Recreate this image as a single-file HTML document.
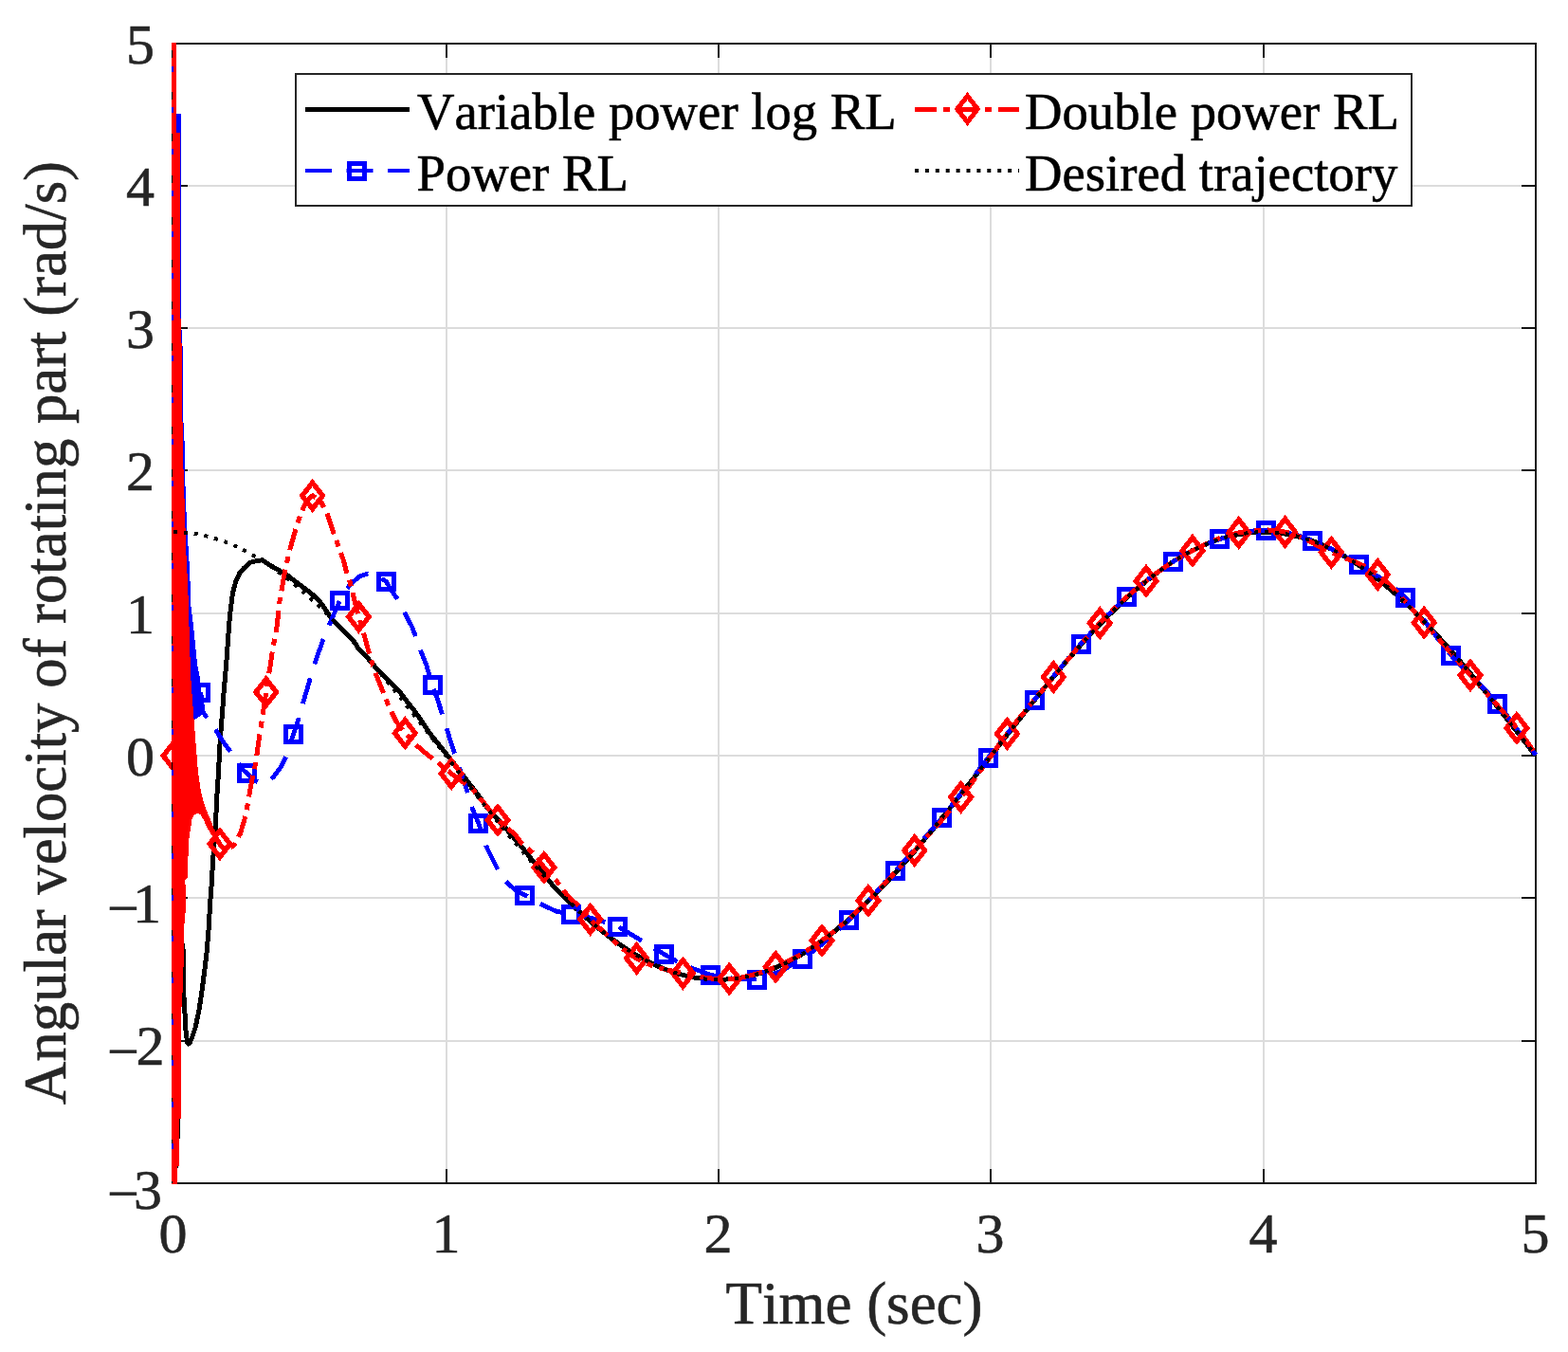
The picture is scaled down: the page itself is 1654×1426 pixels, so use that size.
<!DOCTYPE html>
<html><head><meta charset="utf-8"><title>Angular velocity plot</title>
<style>html,body{margin:0;padding:0;background:#fff;overflow:hidden;}svg{display:block;}text{font-kerning:none;font-feature-settings:"kern" 0;}</style></head><body>
<svg width="1654" height="1426" viewBox="0 0 1654 1426">
<rect width="1654" height="1426" fill="#fff"/>
<g shape-rendering="crispEdges">
<path d="M471,47V1247 M758,47V1247 M1045,47V1247 M1333,47V1247 M184,196H1619 M184,346H1619 M184,496H1619 M184,647H1619 M184,797H1619 M184,947H1619 M184,1098H1619" stroke="#dcdcdc" stroke-width="2" fill="none"/>
<path d="M471,1248V1233 M471,46V61 M758,1248V1233 M758,46V61 M1045,1248V1233 M1045,46V61 M1333,1248V1233 M1333,46V61 M183,196H198 M1620,196H1605 M183,346H198 M1620,346H1605 M183,496H198 M1620,496H1605 M183,647H198 M1620,647H1605 M183,797H198 M1620,797H1605 M183,947H198 M1620,947H1605 M183,1098H198 M1620,1098H1605" stroke="#141414" stroke-width="2" fill="none"/>
<rect x="183" y="46" width="1437" height="1202" stroke="#141414" stroke-width="2" fill="none"/>
<polyline points="184.5,797 183,62 185,1240 186.5,300 187.5,1200 188.5,500 189,900 190.5,985 192.5,998 193.6,1005 193.8,1048 195,1068.4 196,1087 197.5,1099 198.8,1101 200.3,1099.5 202.4,1094.8 206.3,1083.1 210.3,1063.4 213.2,1043.8 215.7,1024.2 218.1,1004.5 220.1,980 220.8,967.6 222,948 223.5,928.4 224.5,908.7 226,889.1 227.5,869.5 228.5,845 230.5,814.3 231.9,786.2 234,758.2 236.1,730.1 238.9,697.9 241.2,665 242.6,648.3 245.5,625 249,612.5 252.5,605 257,599.5 264.2,593.2 271.2,591.5 276.8,590.8 285.2,596.4 295,602 303.4,607 313.2,614.6 324.5,623 334.3,630.8 341.3,639.9 349.7,652.5 362.3,665.1 373.5,676.4 378.4,684.8 388.2,694.6 398,705.9 409.3,717.1 420.5,728.3 428.9,739.5 435.9,748 442.9,757.8 453.3,773.3 464.5,787.3 475.7,801.3 489.8,819.6 503.8,837.8 515,853.2 530.4,870.1 548.7,891.1 563.1,909.3 574.7,923.2 576.2,926.2 577.6,927.8 579,929.3 580.5,930.8 581.9,932.4 583.3,933.9 584.8,935.4 586.2,936.9 587.7,938.4 589.1,939.8 590.5,941.3 592,942.8 593.4,944.2 594.8,945.7 596.3,947.1 597.7,948.5 599.2,950 600.6,951.4 602,952.8 603.5,954.2 604.9,955.5 606.3,956.9 607.8,958.3 609.2,959.6 610.7,961 612.1,962.3 613.5,963.6 615,964.9 616.4,966.2 617.8,967.5 619.3,968.8 620.7,970.1 622.1,971.3 623.6,972.6 625,973.8 626.5,975 627.9,976.2 629.3,977.4 630.8,978.6 632.2,979.8 633.6,981 635.1,982.1 636.5,983.3 638,984.4 639.4,985.5 640.8,986.7 642.3,987.8 643.7,988.8 645.1,989.9 646.6,991 648,992 649.5,993.1 650.9,994.1 652.3,995.1 653.8,996.1 655.2,997.1 656.6,998.1 658.1,999.1 659.5,1000 660.9,1001 662.4,1001.9 663.8,1002.8 665.3,1003.7 666.7,1004.6 668.1,1005.5 669.6,1006.3 671,1007.2 672.4,1008 673.9,1008.9 675.3,1009.7 676.8,1010.5 678.2,1011.3 679.6,1012 681.1,1012.8 682.5,1013.6 683.9,1014.3 685.4,1015 686.8,1015.7 688.2,1016.4 689.7,1017.1 691.1,1017.8 692.6,1018.4 694,1019.1 695.4,1019.7 696.9,1020.3 698.3,1020.9 699.7,1021.5 701.2,1022.1 702.6,1022.6 704.1,1023.2 705.5,1023.7 706.9,1024.2 708.4,1024.7 709.8,1025.2 711.2,1025.7 712.7,1026.1 714.1,1026.6 715.6,1027 717,1027.4 718.4,1027.8 719.9,1028.2 721.3,1028.6 722.7,1028.9 724.2,1029.3 725.6,1029.6 727,1029.9 728.5,1030.2 729.9,1030.5 731.4,1030.8 732.8,1031.1 734.2,1031.3 735.7,1031.5 737.1,1031.8 738.5,1032 740,1032.1 741.4,1032.3 742.9,1032.5 744.3,1032.6 745.7,1032.7 747.2,1032.9 748.6,1033 750,1033 751.5,1033.1 752.9,1033.2 754.4,1033.2 755.8,1033.2 757.2,1033.3 758.7,1033.3 760.1,1033.2 761.5,1033.2 763,1033.2 764.4,1033.1 765.8,1033 767.3,1032.9 768.7,1032.8 770.2,1032.7 771.6,1032.6 773,1032.4 774.5,1032.3 775.9,1032.1 777.3,1031.9 778.8,1031.7 780.2,1031.5 781.7,1031.3 783.1,1031 784.5,1030.7 786,1030.5 787.4,1030.2 788.8,1029.9 790.3,1029.6 791.7,1029.2 793.2,1028.9 794.6,1028.5 796,1028.1 797.5,1027.7 798.9,1027.3 800.3,1026.9 801.8,1026.5 803.2,1026 804.6,1025.6 806.1,1025.1 807.5,1024.6 809,1024.1 810.4,1023.6 811.8,1023 813.3,1022.5 814.7,1021.9 816.1,1021.4 817.6,1020.8 819,1020.2 820.5,1019.6 821.9,1018.9 823.3,1018.3 824.8,1017.6 826.2,1017 827.6,1016.3 829.1,1015.6 830.5,1014.9 831.9,1014.1 833.4,1013.4 834.8,1012.7 836.3,1011.9 837.7,1011.1 839.1,1010.3 840.6,1009.5 842,1008.7 843.4,1007.9 844.9,1007 846.3,1006.2 847.8,1005.3 849.2,1004.4 850.6,1003.5 852.1,1002.6 853.5,1001.7 854.9,1000.8 856.4,999.8 857.8,998.9 859.3,997.9 860.7,996.9 862.1,995.9 863.6,994.9 865,993.9 866.4,992.9 867.9,991.8 869.3,990.8 870.7,989.7 872.2,988.6 873.6,987.5 875.1,986.4 876.5,985.3 877.9,984.2 879.4,983.1 880.8,981.9 882.2,980.7 883.7,979.6 885.1,978.4 886.6,977.2 888,976 889.4,974.8 890.9,973.5 892.3,972.3 893.7,971.1 895.2,969.8 896.6,968.5 898.1,967.3 899.5,966 900.9,964.7 902.4,963.3 903.8,962 905.2,960.7 906.7,959.4 908.1,958 909.5,956.6 911,955.3 912.4,953.9 913.9,952.5 915.3,951.1 916.7,949.7 918.2,948.3 919.6,946.8 921,945.4 922.5,943.9 923.9,942.5 925.4,941 926.8,939.5 928.2,938.1 929.7,936.6 931.1,935.1 932.5,933.6 934,932 935.4,930.5 936.9,929 938.3,927.4 939.7,925.9 941.2,924.3 942.6,922.8 944,921.2 945.5,919.6 946.9,918 948.3,916.4 949.8,914.8 951.2,913.2 952.7,911.6 954.1,910 955.5,908.3 957,906.7 958.4,905.1 959.8,903.4 961.3,901.7 962.7,900.1 964.2,898.4 965.6,896.7 967,895 968.5,893.4 969.9,891.7 971.3,890 972.8,888.3 974.2,886.5 975.6,884.8 977.1,883.1 978.5,881.4 980,879.6 981.4,877.9 982.8,876.1 984.3,874.4 985.7,872.6 987.1,870.9 988.6,869.1 990,867.4 991.5,865.6 992.9,863.8 994.3,862 995.8,860.2 997.2,858.5 998.6,856.7 1000.1,854.9 1001.5,853.1 1003,851.3 1004.4,849.5 1005.8,847.6 1007.3,845.8 1008.7,844 1010.1,842.2 1011.6,840.4 1013,838.6 1014.4,836.7 1015.9,834.9 1017.3,833.1 1018.8,831.2 1020.2,829.4 1021.6,827.6 1023.1,825.7 1024.5,823.9 1025.9,822 1027.4,820.2 1028.8,818.4 1030.3,816.5 1031.7,814.7 1033.1,812.8 1034.6,811 1036,809.1 1037.4,807.3 1038.9,805.4 1040.3,803.6 1041.8,801.7 1043.2,799.8 1044.6,798 1046.1,796.1 1047.5,794.3 1048.9,792.4 1050.4,790.6 1051.8,788.7 1053.2,786.9 1054.7,785 1056.1,783.2 1057.6,781.3 1059,779.5 1060.4,777.6 1061.9,775.8 1063.3,773.9 1064.7,772.1 1066.2,770.2 1067.6,768.4 1069.1,766.6 1070.5,764.7 1071.9,762.9 1073.4,761.1 1074.8,759.2 1076.2,757.4 1077.7,755.6 1079.1,753.8 1080.6,751.9 1082,750.1 1083.4,748.3 1084.9,746.5 1086.3,744.7 1087.7,742.9 1089.2,741.1 1090.6,739.3 1092,737.5 1093.5,735.7 1094.9,733.9 1096.4,732.1 1097.8,730.3 1099.2,728.6 1100.7,726.8 1102.1,725 1103.5,723.3 1105,721.5 1106.4,719.8 1107.9,718 1109.3,716.3 1110.7,714.5 1112.2,712.8 1113.6,711.1 1115,709.3 1116.5,707.6 1117.9,705.9 1119.3,704.2 1120.8,702.5 1122.2,700.8 1123.7,699.1 1125.1,697.4 1126.5,695.8 1128,694.1 1129.4,692.4 1130.8,690.8 1132.3,689.1 1133.7,687.5 1135.2,685.8 1136.6,684.2 1138,682.6 1139.5,681 1140.9,679.4 1142.3,677.7 1143.8,676.2 1145.2,674.6 1146.7,673 1148.1,671.4 1149.5,669.9 1151,668.3 1152.4,666.7 1153.8,665.2 1155.3,663.7 1156.7,662.1 1158.1,660.6 1159.6,659.1 1161,657.6 1162.5,656.1 1163.9,654.7 1165.3,653.2 1166.8,651.7 1168.2,650.3 1169.6,648.8 1171.1,647.4 1172.5,646 1174,644.5 1175.4,643.1 1176.8,641.7 1178.3,640.3 1179.7,639 1181.1,637.6 1182.6,636.2 1184,634.9 1185.5,633.5 1186.9,632.2 1188.3,630.9 1189.8,629.6 1191.2,628.3 1192.6,627 1194.1,625.7 1195.5,624.4 1196.9,623.2 1198.4,621.9 1199.8,620.7 1201.3,619.5 1202.7,618.3 1204.1,617.1 1205.6,615.9 1207,614.7 1208.4,613.5 1209.9,612.4 1211.3,611.2 1212.8,610.1 1214.2,609 1215.6,607.8 1217.1,606.7 1218.5,605.7 1219.9,604.6 1221.4,603.5 1222.8,602.5 1224.3,601.4 1225.7,600.4 1227.1,599.4 1228.6,598.4 1230,597.4 1231.4,596.4 1232.9,595.4 1234.3,594.5 1235.7,593.5 1237.2,592.6 1238.6,591.7 1240.1,590.8 1241.5,589.9 1242.9,589 1244.4,588.2 1245.8,587.3 1247.2,586.5 1248.7,585.6 1250.1,584.8 1251.6,584 1253,583.2 1254.4,582.5 1255.9,581.7 1257.3,580.9 1258.7,580.2 1260.2,579.5 1261.6,578.8 1263,578.1 1264.5,577.4 1265.9,576.7 1267.4,576.1 1268.8,575.4 1270.2,574.8 1271.7,574.2 1273.1,573.6 1274.5,573 1276,572.4 1277.4,571.9 1278.9,571.3 1280.3,570.8 1281.7,570.3 1283.2,569.8 1284.6,569.3 1286,568.8 1287.5,568.4 1288.9,567.9 1290.4,567.5 1291.8,567.1 1293.2,566.7 1294.7,566.3 1296.1,565.9 1297.5,565.6 1299,565.2 1300.4,564.9 1301.8,564.6 1303.3,564.3 1304.7,564 1306.2,563.7 1307.6,563.4 1309,563.2 1310.5,563 1311.9,562.7 1313.3,562.5 1314.8,562.4 1316.2,562.2 1317.7,562 1319.1,561.9 1320.5,561.8 1322,561.6 1323.4,561.5 1324.8,561.5 1326.3,561.4 1327.7,561.3 1329.2,561.3 1330.6,561.3 1332,561.2 1333.5,561.2 1334.9,561.3 1336.3,561.3 1337.8,561.3 1339.2,561.4 1340.6,561.5 1342.1,561.6 1343.5,561.7 1345,561.8 1346.4,561.9 1347.8,562.1 1349.3,562.2 1350.7,562.4 1352.1,562.6 1353.6,562.8 1355,563 1356.5,563.2 1357.9,563.5 1359.3,563.8 1360.8,564 1362.2,564.3 1363.6,564.6 1365.1,564.9 1366.5,565.3 1368,565.6 1369.4,566 1370.8,566.4 1372.3,566.8 1373.7,567.2 1375.1,567.6 1376.6,568 1378,568.5 1379.4,568.9 1380.9,569.4 1382.3,569.9 1383.8,570.4 1385.2,570.9 1386.6,571.5 1388.1,572 1389.5,572.6 1390.9,573.1 1392.4,573.7 1393.8,574.3 1395.3,574.9 1396.7,575.6 1398.1,576.2 1399.6,576.9 1401,577.5 1402.4,578.2 1403.9,578.9 1405.3,579.6 1406.7,580.4 1408.2,581.1 1409.6,581.8 1411.1,582.6 1412.5,583.4 1413.9,584.2 1415.4,585 1416.8,585.8 1418.2,586.6 1419.7,587.5 1421.1,588.3 1422.6,589.2 1424,590.1 1425.4,591 1426.9,591.9 1428.3,592.8 1429.7,593.7 1431.2,594.7 1432.6,595.6 1434.1,596.6 1435.5,597.6 1436.9,598.6 1438.4,599.6 1439.8,600.6 1441.2,601.6 1442.7,602.7 1444.1,603.7 1445.5,604.8 1447,605.9 1448.4,607 1449.9,608.1 1451.3,609.2 1452.7,610.3 1454.2,611.4 1455.6,612.6 1457,613.8 1458.5,614.9 1459.9,616.1 1461.4,617.3 1462.8,618.5 1464.2,619.7 1465.7,621 1467.1,622.2 1468.5,623.4 1470,624.7 1471.4,626 1472.9,627.2 1474.3,628.5 1475.7,629.8 1477.2,631.2 1478.6,632.5 1480,633.8 1481.5,635.1 1482.9,636.5 1484.3,637.9 1485.8,639.2 1487.2,640.6 1488.7,642 1490.1,643.4 1491.5,644.8 1493,646.2 1494.4,647.7 1495.8,649.1 1497.3,650.6 1498.7,652 1500.2,653.5 1501.6,655 1503,656.4 1504.5,657.9 1505.9,659.4 1507.3,660.9 1508.8,662.5 1510.2,664 1511.7,665.5 1513.1,667.1 1514.5,668.6 1516,670.2 1517.4,671.7 1518.8,673.3 1520.3,674.9 1521.7,676.5 1523.1,678.1 1524.6,679.7 1526,681.3 1527.5,682.9 1528.9,684.5 1530.3,686.2 1531.8,687.8 1533.2,689.4 1534.6,691.1 1536.1,692.8 1537.5,694.4 1539,696.1 1540.4,697.8 1541.8,699.5 1543.3,701.1 1544.7,702.8 1546.1,704.5 1547.6,706.2 1549,708 1550.4,709.7 1551.9,711.4 1553.3,713.1 1554.8,714.9 1556.2,716.6 1557.6,718.4 1559.1,720.1 1560.5,721.9 1561.9,723.6 1563.4,725.4 1564.8,727.1 1566.3,728.9 1567.7,730.7 1569.1,732.5 1570.6,734.3 1572,736 1573.4,737.8 1574.9,739.6 1576.3,741.4 1577.8,743.2 1579.2,745 1580.6,746.9 1582.1,748.7 1583.5,750.5 1584.9,752.3 1586.4,754.1 1587.8,755.9 1589.2,757.8 1590.7,759.6 1592.1,761.4 1593.6,763.3 1595,765.1 1596.4,766.9 1597.9,768.8 1599.3,770.6 1600.7,772.5 1602.2,774.3 1603.6,776.1 1605.1,778 1606.5,779.8 1607.9,781.7 1609.4,783.5 1610.8,785.4 1612.2,787.2 1613.7,789.1 1615.1,790.9 1616.6,792.8 1618,794.7 1619.4,796.5" fill="none" stroke="#000" stroke-width="5" stroke-linejoin="round"/>
<polygon points="180.5,44.5 185,44.5 186,120 190.5,120 190.5,280 191.4,346 192.5,365 193.2,440 194.5,465 195,500 196.5,540 197.5,560 200,600 201.5,640 204,660 206,680 208,700 211,715 213,735 214,752 210,756 204,760 190,760 180.5,760" fill="#00f"/>
<polyline points="211.8,730.5 214,750.7 219,758 223.5,763.1 229.8,773.6 236.1,783.4 244.5,794.6 255.7,811.5 260.4,815.4 266,821 273.3,825.5 280,825 288,819.9 296.4,808.7 302,797.4 309.3,775 315.3,756.8 320.3,739.2 327.3,715.4 332.9,697.2 341.3,673.3 348.3,656.7 358.1,634.3 364,623 371.4,614.6 379.8,607.7 388.2,604.9 397,606.5 407.4,613.3 412.1,621.7 419.1,631.5 427.5,647.7 434.5,661 438.7,671.5 444.3,687.6 449.9,701.7 456.2,723.4 461.2,736.7 466.8,754.2 475.7,783.1 480,795.7 491.2,829.4 498.2,852.5 505.2,869.4 513.5,894 525.2,917.5 535.1,931.5 544,939 554,944.2 567.8,952.3 586.3,961 602.3,964.5 612.2,965.9 628.7,969.5 651.8,977.1 666.9,986.2 680.9,994.6 700.6,1006.5 720,1017.5 749.5,1028.3 775,1032.5 798.3,1033.1 822,1025 847.2,1011.3 872,992 896,970.3 897.2,969.2 898.6,967.8 900.1,966.4 901.5,965.1 902.9,963.7 904.4,962.2 905.8,960.8 907.2,959.3 908.7,957.9 910.1,956.4 911.6,954.9 913,953.4 914.4,951.9 915.9,950.3 917.3,948.8 918.7,947.2 920.2,945.7 921.6,944.1 923.1,942.5 924.5,940.9 925.9,939.3 927.4,937.7 928.8,936.1 930.2,934.5 931.7,932.9 933.1,931.3 934.6,929.7 936,928.1 937.4,926.4 938.9,924.8 940.3,923.2 941.7,921.6 943.2,920 944.6,918.4 946,916.8 947.5,915.2 948.9,913.6 950.4,912 951.8,910.4 953.2,908.8 954.7,907.2 956.1,905.6 957.5,904 959,902.4 960.4,900.8 961.9,899.2 963.3,897.6 964.7,896 966.2,894.4 967.6,892.8 969,891.1 970.5,889.5 971.9,887.9 973.3,886.3 974.8,884.6 976.2,883 977.7,881.3 979.1,879.6 980.5,878 982,876.3 983.4,874.6 984.8,872.9 986.3,871.2 987.7,869.5 989.2,867.8 990.6,866 992,864.3 993.5,862.5 994.9,860.7 996.3,858.9 997.8,857.1 999.2,855.3 1000.7,853.5 1002.1,851.7 1003.5,849.9 1005,848 1006.4,846.2 1007.8,844.3 1009.3,842.5 1010.7,840.6 1012.1,838.7 1013.6,836.9 1015,835 1016.5,833.1 1017.9,831.2 1019.3,829.3 1020.8,827.4 1022.2,825.6 1023.6,823.7 1025.1,821.8 1026.5,819.9 1028,818 1029.4,816.1 1030.8,814.2 1032.3,812.3 1033.7,810.5 1035.1,808.6 1036.6,806.7 1038,804.8 1039.5,803 1040.9,801.1 1042.3,799.3 1043.8,797.4 1045.2,795.6 1046.6,793.7 1048.1,791.9 1049.5,790.1 1050.9,788.2 1052.4,786.4 1053.8,784.6 1055.3,782.8 1056.7,781 1058.1,779.2 1059.6,777.4 1061,775.6 1062.4,773.8 1063.9,772 1065.3,770.2 1066.8,768.4 1068.2,766.6 1069.6,764.8 1071.1,763 1072.5,761.2 1073.9,759.4 1075.4,757.7 1076.8,755.9 1078.3,754.1 1079.7,752.3 1081.1,750.5 1082.6,748.8 1084,747 1085.4,745.2 1086.9,743.4 1088.3,741.6 1089.7,739.8 1091.2,738.1 1092.6,736.3 1094.1,734.5 1095.5,732.7 1096.9,730.9 1098.4,729.1 1099.8,727.4 1101.2,725.6 1102.7,723.8 1104.1,722 1105.6,720.3 1107,718.5 1108.4,716.7 1109.9,715 1111.3,713.2 1112.7,711.5 1114.2,709.7 1115.6,708 1117,706.2 1118.5,704.5 1119.9,702.8 1121.4,701 1122.8,699.3 1124.2,697.6 1125.7,695.9 1127.1,694.2 1128.5,692.5 1130,690.9 1131.4,689.2 1132.9,687.5 1134.3,685.9 1135.7,684.2 1137.2,682.6 1138.6,680.9 1140,679.3 1141.5,677.7 1142.9,676.1 1144.4,674.5 1145.8,672.9 1147.2,671.3 1148.7,669.8 1150.1,668.2 1151.5,666.6 1153,665.1 1154.4,663.5 1155.8,662 1157.3,660.5 1158.7,659 1160.2,657.5 1161.6,656 1163,654.5 1164.5,653 1165.9,651.6 1167.3,650.1 1168.8,648.6 1170.2,647.2 1171.7,645.8 1173.1,644.4 1174.5,643 1176,641.6 1177.4,640.2 1178.8,638.8 1180.3,637.4 1181.7,636.1 1183.2,634.7 1184.6,633.4 1186,632.1 1187.5,630.8 1188.9,629.5 1190.3,628.2 1191.8,626.9 1193.2,625.6 1194.6,624.4 1196.1,623.2 1197.5,621.9 1199,620.7 1200.4,619.5 1201.8,618.3 1203.3,617.1 1204.7,616 1206.1,614.8 1207.6,613.7 1209,612.6 1210.5,611.4 1211.9,610.3 1213.3,609.2 1214.8,608.2 1216.2,607.1 1217.6,606 1219.1,605 1220.5,603.9 1222,602.9 1223.4,601.9 1224.8,600.9 1226.3,599.9 1227.7,598.9 1229.1,598 1230.6,597 1232,596 1233.4,595.1 1234.9,594.2 1236.3,593.3 1237.8,592.3 1239.2,591.4 1240.6,590.6 1242.1,589.7 1243.5,588.8 1244.9,588 1246.4,587.1 1247.8,586.3 1249.3,585.5 1250.7,584.7 1252.1,583.9 1253.6,583.1 1255,582.4 1256.4,581.6 1257.9,580.9 1259.3,580.2 1260.8,579.4 1262.2,578.7 1263.6,578 1265.1,577.4 1266.5,576.7 1267.9,576.1 1269.4,575.4 1270.8,574.8 1272.2,574.2 1273.7,573.6 1275.1,573 1276.6,572.4 1278,571.8 1279.4,571.3 1280.9,570.7 1282.3,570.2 1283.7,569.7 1285.2,569.2 1286.6,568.7 1288.1,568.2 1289.5,567.7 1290.9,567.2 1292.4,566.8 1293.8,566.3 1295.2,565.9 1296.7,565.4 1298.1,565 1299.5,564.6 1301,564.2 1302.4,563.8 1303.9,563.4 1305.3,563.1 1306.7,562.7 1308.2,562.4 1309.6,562.1 1311,561.8 1312.5,561.5 1313.9,561.2 1315.4,561 1316.8,560.7 1318.2,560.5 1319.7,560.3 1321.1,560.1 1322.5,559.9 1324,559.8 1325.4,559.6 1326.9,559.5 1328.3,559.4 1329.7,559.4 1331.2,559.3 1332.6,559.3 1334,559.3 1335.5,559.3 1336.9,559.3 1338.3,559.4 1339.8,559.4 1341.2,559.5 1342.7,559.6 1344.1,559.8 1345.5,559.9 1347,560.1 1348.4,560.3 1349.8,560.5 1351.3,560.7 1352.7,561 1354.2,561.2 1355.6,561.5 1357,561.8 1358.5,562.1 1359.9,562.4 1361.3,562.8 1362.8,563.1 1364.2,563.5 1365.7,563.9 1367.1,564.3 1368.5,564.7 1370,565.1 1371.4,565.6 1372.8,566 1374.3,566.5 1375.7,566.9 1377.1,567.4 1378.6,567.9 1380,568.4 1381.5,568.9 1382.9,569.5 1384.3,570 1385.8,570.6 1387.2,571.1 1388.6,571.7 1390.1,572.3 1391.5,572.9 1393,573.5 1394.4,574.2 1395.8,574.8 1397.3,575.5 1398.7,576.2 1400.1,576.9 1401.6,577.6 1403,578.3 1404.4,579 1405.9,579.8 1407.3,580.5 1408.8,581.3 1410.2,582.1 1411.6,582.9 1413.1,583.7 1414.5,584.5 1415.9,585.3 1417.4,586.1 1418.8,586.9 1420.3,587.8 1421.7,588.6 1423.1,589.5 1424.6,590.3 1426,591.2 1427.4,592.1 1428.9,592.9 1430.3,593.8 1431.8,594.7 1433.2,595.6 1434.6,596.5 1436.1,597.4 1437.5,598.3 1438.9,599.1 1440.4,600 1441.8,600.9 1443.2,601.7 1444.7,602.6 1446.1,603.5 1447.6,604.3 1449,605.2 1450.4,606.1 1451.9,607 1453.3,607.9 1454.7,608.8 1456.2,609.7 1457.6,610.7 1459.1,611.6 1460.5,612.6 1461.9,613.6 1463.4,614.6 1464.8,615.6 1466.2,616.7 1467.7,617.7 1469.1,618.8 1470.6,620 1472,621.1 1473.4,622.3 1474.9,623.5 1476.3,624.8 1477.7,626.1 1479.2,627.4 1480.6,628.8 1482,630.2 1483.5,631.6 1484.9,633.1 1486.4,634.7 1487.8,636.3 1489.2,637.9 1490.7,639.6 1492.1,641.3 1493.5,643 1495,644.8 1496.4,646.6 1497.9,648.4 1499.3,650.2 1500.7,652.1 1502.2,654 1503.6,655.9 1505,657.8 1506.5,659.7 1507.9,661.6 1509.4,663.6 1510.8,665.5 1512.2,667.4 1513.7,669.4 1515.1,671.3 1516.5,673.2 1518,675.1 1519.4,677 1520.8,678.9 1522.3,680.7 1523.7,682.6 1525.2,684.4 1526.6,686.1 1528,687.9 1529.5,689.6 1530.9,691.3 1532.3,693 1533.8,694.6 1535.2,696.2 1536.7,697.7 1538.1,699.3 1539.5,700.8 1541,702.3 1542.4,703.8 1543.8,705.2 1545.3,706.7 1546.7,708.1 1548.1,709.6 1549.6,711 1551,712.4 1552.5,713.8 1553.9,715.2 1555.3,716.6 1556.8,718 1558.2,719.4 1559.6,720.8 1561.1,722.2 1562.5,723.7 1564,725.1 1565.4,726.6 1566.8,728 1568.3,729.5 1569.7,731 1571.1,732.6 1572.6,734.1 1574,735.7 1575.5,737.3 1576.9,739 1578.3,740.7 1579.8,742.4 1581.2,744.1 1582.6,745.8 1584.1,747.6 1585.5,749.4 1586.9,751.3 1588.4,753.1 1589.8,755 1591.3,756.9 1592.7,758.9 1594.1,760.8 1595.6,762.7 1597,764.7 1598.4,766.7 1599.9,768.7 1601.3,770.6 1602.8,772.6 1604.2,774.6 1605.6,776.6 1607.1,778.6 1608.5,780.6 1609.9,782.6 1611.4,784.6 1612.8,786.6 1614.3,788.5 1615.7,790.5 1617.1,792.4 1618.6,794.3 1620,796.2" fill="none" stroke="#00f" stroke-width="4.8" stroke-dasharray="28 15.5" stroke-linejoin="round"/>
<g fill="none" stroke="#00f" stroke-width="5"><rect x="203.7" y="722.5" width="16" height="16"/><rect x="252.6" y="807.6" width="16" height="16"/><rect x="301.5" y="766.5" width="16" height="16"/><rect x="350.3" y="625.9" width="16" height="16"/><rect x="399.2" y="605.2" width="16" height="16"/><rect x="448" y="714.8" width="16" height="16"/><rect x="496.9" y="860.6" width="16" height="16"/><rect x="545.7" y="936.1" width="16" height="16"/><rect x="594.6" y="956.5" width="16" height="16"/><rect x="643.5" y="969" width="16" height="16"/><rect x="692.3" y="998.3" width="16" height="16"/><rect x="741.2" y="1020.2" width="16" height="16"/><rect x="790" y="1025.1" width="16" height="16"/><rect x="838.9" y="1003.5" width="16" height="16"/><rect x="887.8" y="962.5" width="16" height="16"/><rect x="936.6" y="910.4" width="16" height="16"/><rect x="985.5" y="854.5" width="16" height="16"/><rect x="1034.3" y="791.3" width="16" height="16"/><rect x="1083.2" y="730.1" width="16" height="16"/><rect x="1132" y="671.3" width="16" height="16"/><rect x="1180.9" y="621.5" width="16" height="16"/><rect x="1229.8" y="584.3" width="16" height="16"/><rect x="1278.6" y="560.7" width="16" height="16"/><rect x="1327.5" y="551.3" width="16" height="16"/><rect x="1376.3" y="562" width="16" height="16"/><rect x="1425.2" y="587.6" width="16" height="16"/><rect x="1474" y="622.2" width="16" height="16"/><rect x="1522.9" y="683.3" width="16" height="16"/><rect x="1571.8" y="734.4" width="16" height="16"/></g>
<polygon points="180.5,44.5 186,44.5 186,140 190,140 190,280 190.6,346 191.7,365 192.4,440 193,465 193.6,500 195,540 196.2,580 197.3,600 199,640 200,680 201.6,720 204.7,760 207,790 209,815 212,835 214.5,845 216.1,849.8 219.1,857.7 222,864.5 225,872.4 227,878 222.5,879.5 218.1,872.4 215.2,865.5 211.2,858.7 208,858 204.4,860 202.4,864.5 199.5,884.2 198.5,903.8 198,925.4 194.5,928.4 195.5,933.3 196,956.8 194,980 194,1000 193,1040 191,1070 191,1180 189,1180 189,1230 187,1230 187,1249 180.5,1249" fill="#f00"/>
<polyline points="224,876 227,882 232.3,891 236,894.5 240,895.5 244,893.5 247.6,890 253.4,879.3 256.4,869.5 259.3,859.6 261.3,847.9 264.2,831.1 267,817.1 269.8,804.5 271.9,789 274,773.6 276.1,761 278.2,747 280.7,730.1 283.1,713.3 285.2,702.1 287.3,686.6 289.4,675.4 292.2,660 295,634.3 300.6,602 306.2,578.2 311.8,558.5 317.4,541.7 323,529 329.7,522.8 338.5,529 345.5,543 351.1,560 356.7,575.4 362.3,590.8 365.1,602 369.3,614.6 373.5,631.5 378.6,651.2 384,669.4 388.2,684.8 394.5,705.9 402.3,725.5 410.7,746.5 418,761 427.3,773.3 440.7,787.3 450.5,795.7 461.7,804.2 476.3,816.1 498.2,832.2 512.2,849 525.2,865.2 543.1,879.9 550,889.3 558.5,896.7 564.7,901.6 574,915.1 583.2,924 591.7,935.2 598.6,944.8 607.1,952.5 614.1,959.5 622.9,969.9 624.2,971.2 625.6,972.6 627,973.9 628.5,975.3 629.9,976.6 631.3,978 632.8,979.3 634.2,980.6 635.7,982 637.1,983.3 638.5,984.7 640,986 641.4,987.3 642.8,988.6 644.3,989.9 645.7,991.2 647.2,992.5 648.6,993.7 650,995 651.5,996.2 652.9,997.4 654.3,998.6 655.8,999.8 657.2,1000.9 658.6,1002.1 660.1,1003.2 661.5,1004.2 663,1005.3 664.4,1006.3 665.8,1007.3 667.3,1008.3 668.7,1009.2 670.1,1010.1 671.6,1010.9 673,1011.8 674.5,1012.6 675.9,1013.3 677.3,1014 678.8,1014.7 680.2,1015.4 681.6,1016 683.1,1016.6 684.5,1017.2 685.9,1017.7 687.4,1018.3 688.8,1018.8 690.3,1019.2 691.7,1019.7 693.1,1020.1 694.6,1020.6 696,1021 697.4,1021.4 698.9,1021.7 700.3,1022.1 701.8,1022.5 703.2,1022.8 704.6,1023.1 706.1,1023.5 707.5,1023.8 708.9,1024.1 710.4,1024.4 711.8,1024.7 713.3,1025 714.7,1025.3 716.1,1025.6 717.6,1025.9 719,1026.2 720.4,1026.6 721.9,1026.9 723.3,1027.2 724.7,1027.5 726.2,1027.8 727.6,1028.1 729.1,1028.4 730.5,1028.7 731.9,1029 733.4,1029.3 734.8,1029.6 736.2,1029.9 737.7,1030.1 739.1,1030.4 740.6,1030.6 742,1030.9 743.4,1031.1 744.9,1031.3 746.3,1031.5 747.7,1031.7 749.2,1031.9 750.6,1032 752.1,1032.2 753.5,1032.3 754.9,1032.4 756.4,1032.5 757.8,1032.6 759.2,1032.7 760.7,1032.7 762.1,1032.7 763.5,1032.7 765,1032.7 766.4,1032.7 767.9,1032.6 769.3,1032.5 770.7,1032.4 772.2,1032.3 773.6,1032.1 775,1032 776.5,1031.8 777.9,1031.6 779.4,1031.4 780.8,1031.1 782.2,1030.9 783.7,1030.6 785.1,1030.3 786.5,1030 788,1029.7 789.4,1029.4 790.9,1029 792.3,1028.7 793.7,1028.3 795.2,1027.9 796.6,1027.5 798,1027.1 799.5,1026.7 800.9,1026.2 802.3,1025.8 803.8,1025.3 805.2,1024.8 806.7,1024.3 808.1,1023.8 809.5,1023.3 811,1022.7 812.4,1022.2 813.8,1021.6 815.3,1021 816.7,1020.4 818.2,1019.8 819.6,1019.2 821,1018.6 822.5,1018 823.9,1017.3 825.3,1016.7 826.8,1016 828.2,1015.3 829.6,1014.6 831.1,1013.9 832.5,1013.2 834,1012.4 835.4,1011.7 836.8,1010.9 838.3,1010.2 839.7,1009.4 841.1,1008.6 842.6,1007.8 844,1006.9 845.5,1006.1 846.9,1005.2 848.3,1004.4 849.8,1003.5 851.2,1002.6 852.6,1001.7 854.1,1000.8 855.5,999.9 857,998.9 858.4,998 859.8,997 861.3,996 862.7,995 864.1,994 865.6,993 867,992 868.4,990.9 869.9,989.8 871.3,988.8 872.8,987.7 874.2,986.6 875.6,985.5 877.1,984.4 878.5,983.2 879.9,982.1 881.4,980.9 882.8,979.8 884.3,978.6 885.7,977.4 887.1,976.2 888.6,975 890,973.8 891.4,972.5 892.9,971.3 894.3,970 895.8,968.8 897.2,967.5 898.6,966.2 900.1,964.9 901.5,963.6 902.9,962.3 904.4,960.9 905.8,959.6 907.2,958.2 908.7,956.9 910.1,955.5 911.6,954.1 913,952.7 914.4,951.3 915.9,949.9 917.3,948.5 918.7,947.1 920.2,945.6 921.6,944.2 923.1,942.7 924.5,941.2 925.9,939.7 927.4,938.3 928.8,936.7 930.2,935.2 931.7,933.7 933.1,932.2 934.6,930.6 936,929.1 937.4,927.5 938.9,926 940.3,924.4 941.7,922.8 943.2,921.2 944.6,919.6 946,918 947.5,916.4 948.9,914.8 950.4,913.2 951.8,911.6 953.2,910 954.7,908.4 956.1,906.8 957.5,905.2 959,903.5 960.4,901.9 961.9,900.3 963.3,898.7 964.7,897 966.2,895.4 967.6,893.8 969,892.2 970.5,890.6 971.9,889 973.3,887.4 974.8,885.8 976.2,884.2 977.7,882.6 979.1,881 980.5,879.4 982,877.8 983.4,876.2 984.8,874.6 986.3,873 987.7,871.4 989.2,869.8 990.6,868.2 992,866.6 993.5,864.9 994.9,863.3 996.3,861.6 997.8,860 999.2,858.3 1000.7,856.6 1002.1,854.9 1003.5,853.2 1005,851.5 1006.4,849.8 1007.8,848 1009.3,846.2 1010.7,844.5 1012.1,842.6 1013.6,840.8 1015,839 1016.5,837.1 1017.9,835.2 1019.3,833.3 1020.8,831.4 1022.2,829.5 1023.6,827.6 1025.1,825.6 1026.5,823.6 1028,821.7 1029.4,819.7 1030.8,817.7 1032.3,815.7 1033.7,813.7 1035.1,811.7 1036.6,809.6 1038,807.6 1039.5,805.6 1040.9,803.6 1042.3,801.5 1043.8,799.5 1045.2,797.5 1046.6,795.5 1048.1,793.5 1049.5,791.5 1050.9,789.5 1052.4,787.5 1053.8,785.5 1055.3,783.6 1056.7,781.6 1058.1,779.7 1059.6,777.7 1061,775.8 1062.4,773.9 1063.9,772.1 1065.3,770.2 1066.8,768.3 1068.2,766.5 1069.6,764.7 1071.1,762.8 1072.5,761 1073.9,759.2 1075.4,757.4 1076.8,755.6 1078.3,753.9 1079.7,752.1 1081.1,750.3 1082.6,748.6 1084,746.8 1085.4,745.1 1086.9,743.3 1088.3,741.6 1089.7,739.9 1091.2,738.2 1092.6,736.4 1094.1,734.7 1095.5,733 1096.9,731.3 1098.4,729.5 1099.8,727.8 1101.2,726.1 1102.7,724.4 1104.1,722.7 1105.6,720.9 1107,719.2 1108.4,717.5 1109.9,715.8 1111.3,714 1112.7,712.3 1114.2,710.5 1115.6,708.8 1117,707.1 1118.5,705.3 1119.9,703.6 1121.4,701.9 1122.8,700.1 1124.2,698.4 1125.7,696.6 1127.1,694.9 1128.5,693.2 1130,691.5 1131.4,689.8 1132.9,688 1134.3,686.3 1135.7,684.6 1137.2,683 1138.6,681.3 1140,679.6 1141.5,677.9 1142.9,676.3 1144.4,674.6 1145.8,673 1147.2,671.3 1148.7,669.7 1150.1,668.1 1151.5,666.5 1153,664.9 1154.4,663.4 1155.8,661.8 1157.3,660.3 1158.7,658.7 1160.2,657.2 1161.6,655.7 1163,654.2 1164.5,652.8 1165.9,651.3 1167.3,649.9 1168.8,648.4 1170.2,647 1171.7,645.6 1173.1,644.2 1174.5,642.8 1176,641.4 1177.4,640.1 1178.8,638.7 1180.3,637.4 1181.7,636 1183.2,634.7 1184.6,633.4 1186,632.1 1187.5,630.8 1188.9,629.6 1190.3,628.3 1191.8,627 1193.2,625.8 1194.6,624.6 1196.1,623.3 1197.5,622.1 1199,620.9 1200.4,619.7 1201.8,618.6 1203.3,617.4 1204.7,616.2 1206.1,615 1207.6,613.9 1209,612.8 1210.5,611.6 1211.9,610.5 1213.3,609.4 1214.8,608.3 1216.2,607.2 1217.6,606.2 1219.1,605.1 1220.5,604.1 1222,603 1223.4,602 1224.8,601 1226.3,600 1227.7,599 1229.1,598 1230.6,597.1 1232,596.1 1233.4,595.2 1234.9,594.3 1236.3,593.3 1237.8,592.4 1239.2,591.5 1240.6,590.7 1242.1,589.8 1243.5,588.9 1244.9,588.1 1246.4,587.2 1247.8,586.4 1249.3,585.6 1250.7,584.8 1252.1,584 1253.6,583.2 1255,582.4 1256.4,581.6 1257.9,580.8 1259.3,580.1 1260.8,579.4 1262.2,578.6 1263.6,577.9 1265.1,577.2 1266.5,576.5 1267.9,575.8 1269.4,575.1 1270.8,574.4 1272.2,573.7 1273.7,573.1 1275.1,572.4 1276.6,571.8 1278,571.2 1279.4,570.6 1280.9,570 1282.3,569.4 1283.7,568.8 1285.2,568.3 1286.6,567.7 1288.1,567.2 1289.5,566.7 1290.9,566.2 1292.4,565.7 1293.8,565.3 1295.2,564.8 1296.7,564.4 1298.1,564 1299.5,563.6 1301,563.2 1302.4,562.9 1303.9,562.5 1305.3,562.2 1306.7,561.9 1308.2,561.6 1309.6,561.3 1311,561.1 1312.5,560.8 1313.9,560.6 1315.4,560.4 1316.8,560.2 1318.2,560 1319.7,559.8 1321.1,559.6 1322.5,559.5 1324,559.3 1325.4,559.2 1326.9,559.1 1328.3,559 1329.7,559 1331.2,558.9 1332.6,558.9 1334,558.9 1335.5,558.9 1336.9,558.9 1338.3,559 1339.8,559 1341.2,559.1 1342.7,559.2 1344.1,559.3 1345.5,559.5 1347,559.6 1348.4,559.8 1349.8,560 1351.3,560.3 1352.7,560.5 1354.2,560.8 1355.6,561.1 1357,561.4 1358.5,561.8 1359.9,562.2 1361.3,562.6 1362.8,563.1 1364.2,563.6 1365.7,564.1 1367.1,564.6 1368.5,565.2 1370,565.8 1371.4,566.4 1372.8,567 1374.3,567.7 1375.7,568.3 1377.1,569 1378.6,569.7 1380,570.4 1381.5,571.1 1382.9,571.9 1384.3,572.6 1385.8,573.3 1387.2,574.1 1388.6,574.8 1390.1,575.6 1391.5,576.3 1393,577.1 1394.4,577.8 1395.8,578.6 1397.3,579.3 1398.7,580 1400.1,580.7 1401.6,581.4 1403,582.1 1404.4,582.8 1405.9,583.5 1407.3,584.1 1408.8,584.7 1410.2,585.3 1411.6,585.9 1413.1,586.5 1414.5,587 1415.9,587.6 1417.4,588.1 1418.8,588.7 1420.3,589.2 1421.7,589.8 1423.1,590.3 1424.6,590.9 1426,591.4 1427.4,592 1428.9,592.5 1430.3,593.1 1431.8,593.7 1433.2,594.3 1434.6,595 1436.1,595.6 1437.5,596.3 1438.9,597 1440.4,597.8 1441.8,598.5 1443.2,599.3 1444.7,600.2 1446.1,601 1447.6,601.9 1449,602.9 1450.4,603.9 1451.9,604.9 1453.3,606 1454.7,607.1 1456.2,608.2 1457.6,609.4 1459.1,610.7 1460.5,611.9 1461.9,613.3 1463.4,614.6 1464.8,615.9 1466.2,617.3 1467.7,618.8 1469.1,620.2 1470.6,621.7 1472,623.2 1473.4,624.7 1474.9,626.2 1476.3,627.7 1477.7,629.3 1479.2,630.9 1480.6,632.5 1482,634.1 1483.5,635.7 1484.9,637.3 1486.4,638.9 1487.8,640.6 1489.2,642.2 1490.7,643.8 1492.1,645.5 1493.5,647.1 1495,648.7 1496.4,650.3 1497.9,652 1499.3,653.6 1500.7,655.2 1502.2,656.7 1503.6,658.3 1505,659.9 1506.5,661.5 1507.9,663.1 1509.4,664.7 1510.8,666.3 1512.2,667.9 1513.7,669.5 1515.1,671.1 1516.5,672.8 1518,674.4 1519.4,676 1520.8,677.6 1522.3,679.3 1523.7,680.9 1525.2,682.6 1526.6,684.2 1528,685.8 1529.5,687.5 1530.9,689.1 1532.3,690.8 1533.8,692.4 1535.2,694.1 1536.7,695.7 1538.1,697.4 1539.5,699 1541,700.7 1542.4,702.3 1543.8,704 1545.3,705.6 1546.7,707.3 1548.1,709 1549.6,710.6 1551,712.3 1552.5,713.9 1553.9,715.6 1555.3,717.2 1556.8,718.8 1558.2,720.4 1559.6,722 1561.1,723.6 1562.5,725.2 1564,726.8 1565.4,728.4 1566.8,730 1568.3,731.6 1569.7,733.2 1571.1,734.7 1572.6,736.3 1574,737.9 1575.5,739.5 1576.9,741.1 1578.3,742.7 1579.8,744.3 1581.2,745.9 1582.6,747.5 1584.1,749.2 1585.5,750.8 1586.9,752.4 1588.4,754.1 1589.8,755.8 1591.3,757.4 1592.7,759.1 1594.1,760.9 1595.6,762.6 1597,764.3 1598.4,766.1 1599.9,767.9 1601.3,769.6 1602.8,771.4 1604.2,773.3 1605.6,775.2 1607.1,777.2 1608.5,779.2 1609.9,781.2 1611.4,783.2 1612.8,785.3 1614.3,787.3 1615.7,789.3 1617.1,791.3 1618.6,793.3 1620,795.2" fill="none" stroke="#f00" stroke-width="5" stroke-dasharray="23 7 7 7" stroke-linejoin="round"/>
<g fill="none" stroke="#f00" stroke-width="5.3"><path d="M183,783.5 L193.8,797.2 L183,811 L172.2,797.2 Z"/><path d="M231.9,876.4 L242.7,890.2 L231.9,904 L221.1,890.2 Z"/><path d="M280.7,716.2 L291.5,730 L280.7,743.8 L269.9,730 Z"/><path d="M329.6,509.1 L340.4,522.9 L329.6,536.7 L318.8,522.9 Z"/><path d="M378.4,636.8 L389.2,650.6 L378.4,664.4 L367.6,650.6 Z"/><path d="M427.3,759.5 L438.1,773.3 L427.3,787.1 L416.5,773.3 Z"/><path d="M476.1,802.2 L486.9,816 L476.1,829.8 L465.3,816 Z"/><path d="M525,851.2 L535.8,865 L525,878.8 L514.2,865 Z"/><path d="M573.9,901.1 L584.7,914.9 L573.9,928.7 L563.1,914.9 Z"/><path d="M622.7,955.9 L633.5,969.7 L622.7,983.5 L611.9,969.7 Z"/><path d="M671.6,997.1 L682.4,1010.9 L671.6,1024.7 L660.8,1010.9 Z"/><path d="M720.4,1012.8 L731.2,1026.6 L720.4,1040.4 L709.6,1026.6 Z"/><path d="M769.3,1018.7 L780.1,1032.5 L769.3,1046.3 L758.5,1032.5 Z"/><path d="M818.2,1006 L829,1019.8 L818.2,1033.6 L807.4,1019.8 Z"/><path d="M867,978.2 L877.8,992 L867,1005.8 L856.2,992 Z"/><path d="M915.9,936.1 L926.7,949.9 L915.9,963.7 L905.1,949.9 Z"/><path d="M964.7,883.2 L975.5,897 L964.7,910.8 L953.9,897 Z"/><path d="M1013.6,827 L1024.4,840.8 L1013.6,854.6 L1002.8,840.8 Z"/><path d="M1062.4,760.1 L1073.2,773.9 L1062.4,787.7 L1051.6,773.9 Z"/><path d="M1111.3,700.2 L1122.1,714 L1111.3,727.8 L1100.5,714 Z"/><path d="M1160.2,643.4 L1171,657.2 L1160.2,671 L1149.4,657.2 Z"/><path d="M1209,599 L1219.8,612.8 L1209,626.6 L1198.2,612.8 Z"/><path d="M1257.9,567 L1268.7,580.8 L1257.9,594.6 L1247.1,580.8 Z"/><path d="M1306.7,548.1 L1317.5,561.9 L1306.7,575.7 L1295.9,561.9 Z"/><path d="M1355.6,547.3 L1366.4,561.1 L1355.6,574.9 L1344.8,561.1 Z"/><path d="M1404.4,569 L1415.2,582.8 L1404.4,596.6 L1393.6,582.8 Z"/><path d="M1453.3,592.2 L1464.1,606 L1453.3,619.8 L1442.5,606 Z"/><path d="M1502.2,642.9 L1513,656.7 L1502.2,670.5 L1491.4,656.7 Z"/><path d="M1551,698.5 L1561.8,712.3 L1551,726.1 L1540.2,712.3 Z"/><path d="M1599.9,754.1 L1610.7,767.9 L1599.9,781.7 L1589.1,767.9 Z"/></g>
<path d="M181.7,46V1248" stroke="#000" stroke-width="1.4" stroke-dasharray="8 36.2" stroke-dashoffset="37.6" fill="none"/>
<path d="M182.2,46V1248" stroke="#00f" stroke-width="2.4" stroke-dasharray="6 37.7" stroke-dashoffset="20.2" fill="none"/>
<polyline points="183,561.2 184.4,561.2 185.9,561.3 187.3,561.3 188.7,561.4 190.2,561.4 191.6,561.5 193.1,561.6 194.5,561.7 195.9,561.8 197.4,562 198.8,562.1 200.2,562.3 201.7,562.5 203.1,562.7 204.6,562.9 206,563.1 207.4,563.3 208.9,563.6 210.3,563.9 211.7,564.1 213.2,564.4 214.6,564.8 216.1,565.1 217.5,565.4 218.9,565.8 220.4,566.1 221.8,566.5 223.2,566.9 224.7,567.3 226.1,567.8 227.5,568.2 229,568.7 230.4,569.1 231.9,569.6 233.3,570.1 234.7,570.6 236.2,571.1 237.6,571.7 239,572.2 240.5,572.8 241.9,573.4 243.4,574 244.8,574.6 246.2,575.2 247.7,575.8 249.1,576.5 250.5,577.1 252,577.8 253.4,578.5 254.8,579.2 256.3,579.9 257.7,580.6 259.2,581.4 260.6,582.1 262,582.9 263.5,583.7 264.9,584.5 266.3,585.3 267.8,586.1 269.2,587 270.7,587.8 272.1,588.7 273.5,589.5 275,590.4 276.4,591.3 277.8,592.2 279.3,593.2 280.7,594.1 282.2,595.1 283.6,596 285,597 286.5,598 287.9,599 289.3,600 290.8,601 292.2,602 293.6,603.1 295.1,604.2 296.5,605.2 298,606.3 299.4,607.4 300.8,608.5 302.3,609.6 303.7,610.8 305.1,611.9 306.6,613.1 308,614.2 309.5,615.4 310.9,616.6 312.3,617.8 313.8,619 315.2,620.2 316.6,621.4 318.1,622.7 319.5,623.9 321,625.2 322.4,626.5 323.8,627.8 325.3,629.1 326.7,630.4 328.1,631.7 329.6,633 331,634.3 332.4,635.7 333.9,637 335.3,638.4 336.8,639.8 338.2,641.2 339.6,642.6 341.1,644 342.5,645.4 343.9,646.8 345.4,648.2 346.8,649.7 348.3,651.1 349.7,652.6 351.1,654.1 352.6,655.5 354,657 355.4,658.5 356.9,660 358.3,661.5 359.8,663.1 361.2,664.6 362.6,666.1 364.1,667.7 365.5,669.2 366.9,670.8 368.4,672.4 369.8,673.9 371.2,675.5 372.7,677.1 374.1,678.7 375.6,680.3 377,681.9 378.4,683.6 379.9,685.2 381.3,686.8 382.7,688.5 384.2,690.1 385.6,691.8 387.1,693.4 388.5,695.1 389.9,696.8 391.4,698.4 392.8,700.1 394.2,701.8 395.7,703.5 397.1,705.2 398.5,706.9 400,708.6 401.4,710.4 402.9,712.1 404.3,713.8 405.7,715.6 407.2,717.3 408.6,719.1 410,720.8 411.5,722.6 412.9,724.3 414.4,726.1 415.8,727.9 417.2,729.6 418.7,731.4 420.1,733.2 421.5,735 423,736.8 424.4,738.6 425.9,740.4 427.3,742.2 428.7,744 430.2,745.8 431.6,747.6 433,749.4 434.5,751.2 435.9,753 437.3,754.8 438.8,756.7 440.2,758.5 441.7,760.3 443.1,762.2 444.5,764 446,765.8 447.4,767.7 448.8,769.5 450.3,771.4 451.7,773.2 453.2,775 454.6,776.9 456,778.7 457.5,780.6 458.9,782.4 460.3,784.3 461.8,786.1 463.2,788 464.7,789.8 466.1,791.7 467.5,793.5 469,795.4 470.4,797.2 471.8,799.1 473.3,801 474.7,802.8 476.1,804.7 477.6,806.5 479,808.4 480.5,810.2 481.9,812.1 483.3,813.9 484.8,815.8 486.2,817.6 487.6,819.5 489.1,821.3 490.5,823.1 492,825 493.4,826.8 494.8,828.7 496.3,830.5 497.7,832.3 499.1,834.2 500.6,836 502,837.8 503.5,839.7 504.9,841.5 506.3,843.3 507.8,845.1 509.2,846.9 510.6,848.7 512.1,850.5 513.5,852.3 514.9,854.1 516.4,855.9 517.8,857.7 519.3,859.5 520.7,861.3 522.1,863.1 523.6,864.9 525,866.6 526.4,868.4 527.9,870.2 529.3,871.9 530.8,873.7 532.2,875.4 533.6,877.2 535.1,878.9 536.5,880.7 537.9,882.4 539.4,884.1 540.8,885.9 542.2,887.6 543.7,889.3 545.1,891 546.6,892.7 548,894.4 549.4,896.1 550.9,897.7 552.3,899.4 553.7,901.1 555.2,902.7 556.6,904.4 558.1,906 559.5,907.7 560.9,909.3 562.4,910.9 563.8,912.6 565.2,914.2 566.7,915.8 568.1,917.4 569.6,919 571,920.6 572.4,922.1 573.9,923.7 575.3,925.3 576.7,926.8 578.2,928.4 579.6,929.9 581,931.4 582.5,933 583.9,934.5 585.4,936 586.8,937.5 588.2,939 589.7,940.4 591.1,941.9 592.5,943.4 594,944.8 595.4,946.3 596.9,947.7 598.3,949.1 599.7,950.5 601.2,951.9 602.6,953.3 604,954.7 605.5,956.1 606.9,957.5 608.4,958.8 609.8,960.2 611.2,961.5 612.7,962.8 614.1,964.1 615.5,965.4 617,966.7 618.4,968 619.8,969.3 621.3,970.6 622.7,971.8 624.2,973.1 625.6,974.3 627,975.5 628.5,976.7 629.9,977.9 631.3,979.1 632.8,980.3 634.2,981.4 635.7,982.6 637.1,983.7 638.5,984.9 640,986 641.4,987.1 642.8,988.2 644.3,989.3 645.7,990.3 647.2,991.4 648.6,992.5 650,993.5 651.5,994.5 652.9,995.5 654.3,996.5 655.8,997.5 657.2,998.5 658.6,999.4 660.1,1000.4 661.5,1001.3 663,1002.3 664.4,1003.2 665.8,1004.1 667.3,1005 668.7,1005.8 670.1,1006.7 671.6,1007.5 673,1008.4 674.5,1009.2 675.9,1010 677.3,1010.8 678.8,1011.6 680.2,1012.4 681.6,1013.1 683.1,1013.9 684.5,1014.6 685.9,1015.3 687.4,1016 688.8,1016.7 690.3,1017.4 691.7,1018 693.1,1018.7 694.6,1019.3 696,1019.9 697.4,1020.5 698.9,1021.1 700.3,1021.7 701.8,1022.3 703.2,1022.8 704.6,1023.4 706.1,1023.9 707.5,1024.4 708.9,1024.9 710.4,1025.4 711.8,1025.8 713.3,1026.3 714.7,1026.7 716.1,1027.2 717.6,1027.6 719,1028 720.4,1028.4 721.9,1028.7 723.3,1029.1 724.7,1029.4 726.2,1029.7 727.6,1030.1 729.1,1030.4 730.5,1030.6 731.9,1030.9 733.4,1031.2 734.8,1031.4 736.2,1031.6 737.7,1031.8 739.1,1032 740.6,1032.2 742,1032.4 743.4,1032.5 744.9,1032.7 746.3,1032.8 747.7,1032.9 749.2,1033 750.6,1033.1 752.1,1033.1 753.5,1033.2 754.9,1033.2 756.4,1033.3 757.8,1033.3 759.2,1033.3 760.7,1033.2 762.1,1033.2 763.5,1033.1 765,1033.1 766.4,1033 767.9,1032.9 769.3,1032.8 770.7,1032.7 772.2,1032.5 773.6,1032.4 775,1032.2 776.5,1032 777.9,1031.8 779.4,1031.6 780.8,1031.4 782.2,1031.2 783.7,1030.9 785.1,1030.6 786.5,1030.4 788,1030.1 789.4,1029.7 790.9,1029.4 792.3,1029.1 793.7,1028.7 795.2,1028.4 796.6,1028 798,1027.6 799.5,1027.2 800.9,1026.7 802.3,1026.3 803.8,1025.8 805.2,1025.4 806.7,1024.9 808.1,1024.4 809.5,1023.9 811,1023.4 812.4,1022.8 813.8,1022.3 815.3,1021.7 816.7,1021.1 818.2,1020.5 819.6,1019.9 821,1019.3 822.5,1018.7 823.9,1018 825.3,1017.4 826.8,1016.7 828.2,1016 829.6,1015.3 831.1,1014.6 832.5,1013.9 834,1013.1 835.4,1012.4 836.8,1011.6 838.3,1010.8 839.7,1010 841.1,1009.2 842.6,1008.4 844,1007.5 845.5,1006.7 846.9,1005.8 848.3,1005 849.8,1004.1 851.2,1003.2 852.6,1002.3 854.1,1001.3 855.5,1000.4 857,999.4 858.4,998.5 859.8,997.5 861.3,996.5 862.7,995.5 864.1,994.5 865.6,993.5 867,992.5 868.4,991.4 869.9,990.3 871.3,989.3 872.8,988.2 874.2,987.1 875.6,986 877.1,984.9 878.5,983.7 879.9,982.6 881.4,981.4 882.8,980.3 884.3,979.1 885.7,977.9 887.1,976.7 888.6,975.5 890,974.3 891.4,973.1 892.9,971.8 894.3,970.6 895.8,969.3 897.2,968 898.6,966.7 900.1,965.4 901.5,964.1 902.9,962.8 904.4,961.5 905.8,960.2 907.2,958.8 908.7,957.5 910.1,956.1 911.6,954.7 913,953.3 914.4,951.9 915.9,950.5 917.3,949.1 918.7,947.7 920.2,946.3 921.6,944.8 923.1,943.4 924.5,941.9 925.9,940.4 927.4,939 928.8,937.5 930.2,936 931.7,934.5 933.1,933 934.6,931.4 936,929.9 937.4,928.4 938.9,926.8 940.3,925.3 941.7,923.7 943.2,922.1 944.6,920.6 946,919 947.5,917.4 948.9,915.8 950.4,914.2 951.8,912.6 953.2,910.9 954.7,909.3 956.1,907.7 957.5,906 959,904.4 960.4,902.7 961.9,901.1 963.3,899.4 964.7,897.7 966.2,896.1 967.6,894.4 969,892.7 970.5,891 971.9,889.3 973.3,887.6 974.8,885.9 976.2,884.1 977.7,882.4 979.1,880.7 980.5,878.9 982,877.2 983.4,875.4 984.8,873.7 986.3,871.9 987.7,870.2 989.2,868.4 990.6,866.6 992,864.9 993.5,863.1 994.9,861.3 996.3,859.5 997.8,857.7 999.2,855.9 1000.7,854.1 1002.1,852.3 1003.5,850.5 1005,848.7 1006.4,846.9 1007.8,845.1 1009.3,843.3 1010.7,841.5 1012.1,839.7 1013.6,837.8 1015,836 1016.5,834.2 1017.9,832.3 1019.3,830.5 1020.8,828.7 1022.2,826.8 1023.6,825 1025.1,823.1 1026.5,821.3 1028,819.5 1029.4,817.6 1030.8,815.8 1032.3,813.9 1033.7,812.1 1035.1,810.2 1036.6,808.4 1038,806.5 1039.5,804.7 1040.9,802.8 1042.3,801 1043.8,799.1 1045.2,797.2 1046.6,795.4 1048.1,793.5 1049.5,791.7 1050.9,789.8 1052.4,788 1053.8,786.1 1055.3,784.3 1056.7,782.4 1058.1,780.6 1059.6,778.7 1061,776.9 1062.4,775 1063.9,773.2 1065.3,771.4 1066.8,769.5 1068.2,767.7 1069.6,765.8 1071.1,764 1072.5,762.2 1073.9,760.3 1075.4,758.5 1076.8,756.7 1078.3,754.8 1079.7,753 1081.1,751.2 1082.6,749.4 1084,747.6 1085.4,745.8 1086.9,744 1088.3,742.2 1089.7,740.4 1091.2,738.6 1092.6,736.8 1094.1,735 1095.5,733.2 1096.9,731.4 1098.4,729.6 1099.8,727.9 1101.2,726.1 1102.7,724.3 1104.1,722.6 1105.6,720.8 1107,719.1 1108.4,717.3 1109.9,715.6 1111.3,713.8 1112.7,712.1 1114.2,710.4 1115.6,708.6 1117,706.9 1118.5,705.2 1119.9,703.5 1121.4,701.8 1122.8,700.1 1124.2,698.4 1125.7,696.8 1127.1,695.1 1128.5,693.4 1130,691.8 1131.4,690.1 1132.9,688.5 1134.3,686.8 1135.7,685.2 1137.2,683.6 1138.6,681.9 1140,680.3 1141.5,678.7 1142.9,677.1 1144.4,675.5 1145.8,673.9 1147.2,672.4 1148.7,670.8 1150.1,669.2 1151.5,667.7 1153,666.1 1154.4,664.6 1155.8,663.1 1157.3,661.5 1158.7,660 1160.2,658.5 1161.6,657 1163,655.5 1164.5,654.1 1165.9,652.6 1167.3,651.1 1168.8,649.7 1170.2,648.2 1171.7,646.8 1173.1,645.4 1174.5,644 1176,642.6 1177.4,641.2 1178.8,639.8 1180.3,638.4 1181.7,637 1183.2,635.7 1184.6,634.3 1186,633 1187.5,631.7 1188.9,630.4 1190.3,629.1 1191.8,627.8 1193.2,626.5 1194.6,625.2 1196.1,623.9 1197.5,622.7 1199,621.4 1200.4,620.2 1201.8,619 1203.3,617.8 1204.7,616.6 1206.1,615.4 1207.6,614.2 1209,613.1 1210.5,611.9 1211.9,610.8 1213.3,609.6 1214.8,608.5 1216.2,607.4 1217.6,606.3 1219.1,605.2 1220.5,604.2 1222,603.1 1223.4,602 1224.8,601 1226.3,600 1227.7,599 1229.1,598 1230.6,597 1232,596 1233.4,595.1 1234.9,594.1 1236.3,593.2 1237.8,592.2 1239.2,591.3 1240.6,590.4 1242.1,589.5 1243.5,588.7 1244.9,587.8 1246.4,587 1247.8,586.1 1249.3,585.3 1250.7,584.5 1252.1,583.7 1253.6,582.9 1255,582.1 1256.4,581.4 1257.9,580.6 1259.3,579.9 1260.8,579.2 1262.2,578.5 1263.6,577.8 1265.1,577.1 1266.5,576.5 1267.9,575.8 1269.4,575.2 1270.8,574.6 1272.2,574 1273.7,573.4 1275.1,572.8 1276.6,572.2 1278,571.7 1279.4,571.1 1280.9,570.6 1282.3,570.1 1283.7,569.6 1285.2,569.1 1286.6,568.7 1288.1,568.2 1289.5,567.8 1290.9,567.3 1292.4,566.9 1293.8,566.5 1295.2,566.1 1296.7,565.8 1298.1,565.4 1299.5,565.1 1301,564.8 1302.4,564.4 1303.9,564.1 1305.3,563.9 1306.7,563.6 1308.2,563.3 1309.6,563.1 1311,562.9 1312.5,562.7 1313.9,562.5 1315.4,562.3 1316.8,562.1 1318.2,562 1319.7,561.8 1321.1,561.7 1322.5,561.6 1324,561.5 1325.4,561.4 1326.9,561.4 1328.3,561.3 1329.7,561.3 1331.2,561.2 1332.6,561.2 1334,561.2 1335.5,561.3 1336.9,561.3 1338.3,561.4 1339.8,561.4 1341.2,561.5 1342.7,561.6 1344.1,561.7 1345.5,561.8 1347,562 1348.4,562.1 1349.8,562.3 1351.3,562.5 1352.7,562.7 1354.2,562.9 1355.6,563.1 1357,563.3 1358.5,563.6 1359.9,563.9 1361.3,564.1 1362.8,564.4 1364.2,564.8 1365.7,565.1 1367.1,565.4 1368.5,565.8 1370,566.1 1371.4,566.5 1372.8,566.9 1374.3,567.3 1375.7,567.8 1377.1,568.2 1378.6,568.7 1380,569.1 1381.5,569.6 1382.9,570.1 1384.3,570.6 1385.8,571.1 1387.2,571.7 1388.6,572.2 1390.1,572.8 1391.5,573.4 1393,574 1394.4,574.6 1395.8,575.2 1397.3,575.8 1398.7,576.5 1400.1,577.1 1401.6,577.8 1403,578.5 1404.4,579.2 1405.9,579.9 1407.3,580.6 1408.8,581.4 1410.2,582.1 1411.6,582.9 1413.1,583.7 1414.5,584.5 1415.9,585.3 1417.4,586.1 1418.8,587 1420.3,587.8 1421.7,588.7 1423.1,589.5 1424.6,590.4 1426,591.3 1427.4,592.2 1428.9,593.2 1430.3,594.1 1431.8,595.1 1433.2,596 1434.6,597 1436.1,598 1437.5,599 1438.9,600 1440.4,601 1441.8,602 1443.2,603.1 1444.7,604.2 1446.1,605.2 1447.6,606.3 1449,607.4 1450.4,608.5 1451.9,609.6 1453.3,610.8 1454.7,611.9 1456.2,613.1 1457.6,614.2 1459.1,615.4 1460.5,616.6 1461.9,617.8 1463.4,619 1464.8,620.2 1466.2,621.4 1467.7,622.7 1469.1,623.9 1470.6,625.2 1472,626.5 1473.4,627.8 1474.9,629.1 1476.3,630.4 1477.7,631.7 1479.2,633 1480.6,634.3 1482,635.7 1483.5,637 1484.9,638.4 1486.4,639.8 1487.8,641.2 1489.2,642.6 1490.7,644 1492.1,645.4 1493.5,646.8 1495,648.2 1496.4,649.7 1497.9,651.1 1499.3,652.6 1500.7,654.1 1502.2,655.5 1503.6,657 1505,658.5 1506.5,660 1507.9,661.5 1509.4,663.1 1510.8,664.6 1512.2,666.1 1513.7,667.7 1515.1,669.2 1516.5,670.8 1518,672.4 1519.4,673.9 1520.8,675.5 1522.3,677.1 1523.7,678.7 1525.2,680.3 1526.6,681.9 1528,683.6 1529.5,685.2 1530.9,686.8 1532.3,688.5 1533.8,690.1 1535.2,691.8 1536.7,693.4 1538.1,695.1 1539.5,696.8 1541,698.4 1542.4,700.1 1543.8,701.8 1545.3,703.5 1546.7,705.2 1548.1,706.9 1549.6,708.6 1551,710.4 1552.5,712.1 1553.9,713.8 1555.3,715.6 1556.8,717.3 1558.2,719.1 1559.6,720.8 1561.1,722.6 1562.5,724.3 1564,726.1 1565.4,727.9 1566.8,729.6 1568.3,731.4 1569.7,733.2 1571.1,735 1572.6,736.8 1574,738.6 1575.5,740.4 1576.9,742.2 1578.3,744 1579.8,745.8 1581.2,747.6 1582.6,749.4 1584.1,751.2 1585.5,753 1586.9,754.8 1588.4,756.7 1589.8,758.5 1591.3,760.3 1592.7,762.2 1594.1,764 1595.6,765.8 1597,767.7 1598.4,769.5 1599.9,771.4 1601.3,773.2 1602.8,775 1604.2,776.9 1605.6,778.7 1607.1,780.6 1608.5,782.4 1609.9,784.3 1611.4,786.1 1612.8,788 1614.3,789.8 1615.7,791.7 1617.1,793.5 1618.6,795.4 1620,797.2" fill="none" stroke="#000" stroke-width="4" stroke-dasharray="4 6.9"/>
</g>
<rect x="312" y="78" width="1177" height="139" fill="#fff" stroke="#262626" stroke-width="2"/>
<path d="M322,115.5H432" stroke="#000" stroke-width="5"/>
<path d="M322,180H432" stroke="#00f" stroke-width="4" stroke-dasharray="28 15.5"/>
<rect x="368.5" y="172.5" width="16" height="16" fill="none" stroke="#00f" stroke-width="5" shape-rendering="crispEdges"/>
<path d="M965,115.5H1075" stroke="#f00" stroke-width="5" stroke-dasharray="23 7 7 7"/>
<g fill="none" stroke="#f00" stroke-width="5" shape-rendering="crispEdges"><path d="M1020.5,101.2 L1031.3,115 L1020.5,128.8 L1009.7,115 Z"/></g>
<path d="M965,180H1075" stroke="#000" stroke-width="4" stroke-dasharray="4 6.9"/>
<g font-family="Liberation Serif, Times New Roman, serif" font-size="54.7" fill="#000" stroke="#000" stroke-width="0.6">
<text x="440" y="135.8">Variable power log RL</text>
<text x="439.5" y="201">Power RL</text>
<text x="1081" y="135.8">Double power RL</text>
<text x="1081" y="201">Desired trajectory</text>
</g>
<g font-family="Liberation Serif, Times New Roman, serif" font-size="60" fill="#262626" stroke="#262626" stroke-width="0.6">
<text x="182.5" y="1321" text-anchor="middle">0</text>
<text x="470.5" y="1321" text-anchor="middle">1</text>
<text x="757.5" y="1321" text-anchor="middle">2</text>
<text x="1044.5" y="1321" text-anchor="middle">3</text>
<text x="1332.5" y="1321" text-anchor="middle">4</text>
<text x="1619.5" y="1321" text-anchor="middle">5</text>
<text x="163" y="66.5" text-anchor="end">5</text>
<text x="163" y="216.5" text-anchor="end">4</text>
<text x="163" y="366.5" text-anchor="end">3</text>
<text x="163" y="516.5" text-anchor="end">2</text>
<text x="163" y="667.5" text-anchor="end">1</text>
<text x="163" y="817.5" text-anchor="end">0</text>
<text x="113" y="978.4">&#8722;</text><text x="170" y="972.5" text-anchor="end">1</text>
<text x="113" y="1129.4">&#8722;</text><text x="173.5" y="1122.5" text-anchor="end">2</text>
<text x="113" y="1279.4">&#8722;</text><text x="171" y="1274.5" text-anchor="end">3</text>
</g>
<g font-family="Liberation Serif, Times New Roman, serif" font-size="63" fill="#262626" stroke="#262626" stroke-width="0.6">
<text x="901" y="1395.5" text-anchor="middle">Time (sec)</text>
<text transform="translate(69,667.5) rotate(-90)" text-anchor="middle" font-size="62.75">Angular velocity of rotating part (rad/s)</text>
</g>
</svg>
</body></html>
